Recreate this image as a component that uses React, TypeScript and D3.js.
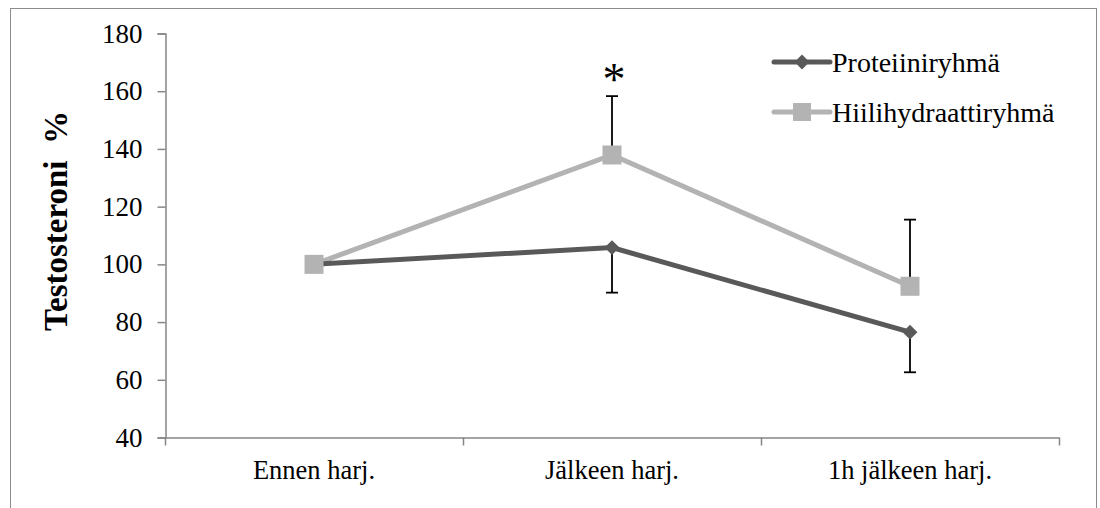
import React, { useEffect, useRef } from "react";
import * as d3 from "d3";

const categories = ["Ennen harj.", "Jälkeen harj.", "1h jälkeen harj."];
const proteinValues = [100, 105.8, 76.5];
const proteinLower = [100, 90.2, 62.6];
const carbValues = [100, 137.9, 92.4];
const carbUpper = [100, 158.3, 115.5];
const yTicks = [40, 60, 80, 100, 120, 140, 160, 180];
const seriesNames = ["Proteiiniryhmä", "Hiilihydraattiryhmä"];
const seriesColors = ["#595959", "#b3b3b3"];

const App = () => {
  const ref = useRef<SVGSVGElement>(null);

  useEffect(() => {
    const svg = d3.select(ref.current);
    svg.selectAll("*").remove();
    const font = "'Liberation Serif', 'Times New Roman', serif";

    svg
      .append("rect")
      .attr("x", 10.5)
      .attr("y", 8.5)
      .attr("width", 1086)
      .attr("height", 520)
      .attr("fill", "none")
      .attr("stroke", "#8c8c8c")
      .attr("stroke-width", 1);

    const x = d3.scaleBand().domain(categories).range([165, 1059]);
    const y = d3.scaleLinear().domain([40, 180]).range([437.5, 33.5]);
    const cx = (c: string) => x(c)! + x.bandwidth() / 2;

    // y axis
    const yAxis = svg
      .append("g")
      .attr("transform", "translate(165.5,0)")
      .call(d3.axisLeft(y).tickValues(yTicks).tickSize(8).tickPadding(15));
    yAxis.select(".domain").attr("stroke", "#868686").attr("stroke-width", 1.5);
    yAxis.selectAll(".tick line").attr("stroke", "#868686").attr("stroke-width", 1.5);
    yAxis
      .selectAll(".tick text")
      .style("font-family", font)
      .style("font-size", "27px")
      .attr("fill", "#000");

    // x axis
    const xAxis = svg
      .append("g")
      .attr("transform", `translate(0,${y(40)})`)
      .call(d3.axisBottom(x).tickSize(0).tickPadding(23));
    xAxis.select(".domain").attr("stroke", "#868686").attr("stroke-width", 1.5);
    xAxis
      .selectAll(".tick text")
      .style("font-family", font)
      .style("font-size", "26.5px")
      .attr("fill", "#000");
    const bounds = categories.map((c) => x(c)!).concat([x.range()[1]]);
    svg
      .append("g")
      .selectAll("line")
      .data(bounds)
      .join("line")
      .attr("x1", (d) => d + 0.5)
      .attr("x2", (d) => d + 0.5)
      .attr("y1", y(40))
      .attr("y2", y(40) + 8)
      .attr("stroke", "#868686")
      .attr("stroke-width", 1.5);

    // y label
    svg
      .append("text")
      .attr("transform", "translate(67,221) rotate(-90)")
      .attr("text-anchor", "middle")
      .style("font-family", font)
      .style("font-weight", "bold")
      .style("font-size", "33px")
      .style("white-space", "pre")
      .text("Testosteroni  %");

    // error bars
    const errData = [
      ...categories.map((c, i) => ({ c, from: proteinValues[i], to: proteinLower[i] })),
      ...categories.map((c, i) => ({ c, from: carbValues[i], to: carbUpper[i] })),
    ].filter((d) => d.from !== d.to);
    const eg = svg.append("g").attr("stroke", "#000").attr("stroke-width", 1.8);
    eg.selectAll("line.v")
      .data(errData)
      .join("line")
      .attr("class", "v")
      .attr("x1", (d) => cx(d.c))
      .attr("x2", (d) => cx(d.c))
      .attr("y1", (d) => y(d.from))
      .attr("y2", (d) => y(d.to));
    eg.selectAll("line.cap")
      .data(errData)
      .join("line")
      .attr("class", "cap")
      .attr("x1", (d) => cx(d.c) - 6)
      .attr("x2", (d) => cx(d.c) + 6)
      .attr("y1", (d) => y(d.to))
      .attr("y2", (d) => y(d.to));

    const line = d3
      .line<number>()
      .x((d, i) => cx(categories[i]))
      .y((d) => y(d));

    // carb series
    svg
      .append("path")
      .datum(carbValues)
      .attr("d", line)
      .attr("fill", "none")
      .attr("stroke", seriesColors[1])
      .attr("stroke-width", 5);
    // protein series
    svg
      .append("path")
      .datum(proteinValues)
      .attr("d", line)
      .attr("fill", "none")
      .attr("stroke", seriesColors[0])
      .attr("stroke-width", 5);

    const diamond = d3.symbol().type(d3.symbolDiamond2).size(140);
    svg
      .append("g")
      .selectAll("path")
      .data(proteinValues)
      .join("path")
      .attr("d", diamond)
      .attr("transform", (d, i) => `translate(${cx(categories[i])},${y(d)})`)
      .attr("fill", seriesColors[0]);
    svg
      .append("g")
      .selectAll("rect")
      .data(carbValues)
      .join("rect")
      .attr("x", (d, i) => cx(categories[i]) - 9.5)
      .attr("y", (d) => y(d) - 9.5)
      .attr("width", 19)
      .attr("height", 19)
      .attr("fill", seriesColors[1]);

    // significance asterisk
    svg
      .append("text")
      .attr("x", cx(categories[1]) + 2)
      .attr("y", 95)
      .attr("text-anchor", "middle")
      .style("font-family", font)
      .style("font-size", "46px")
      .text("*");

    // legend
    const legend = svg
      .append("g")
      .selectAll("g")
      .data(seriesNames)
      .join("g")
      .attr("transform", (d, i) => `translate(774,${62 + i * 50})`);
    legend
      .append("line")
      .attr("x1", 0)
      .attr("x2", 56)
      .attr("stroke", (d, i) => seriesColors[i])
      .attr("stroke-width", 5)
      .attr("stroke-linecap", "round");
    legend
      .append("path")
      .attr("transform", "translate(28,0)")
      .attr("d", (d, i) =>
        i === 0 ? diamond()! : d3.symbol().type(d3.symbolSquare).size(324)()!
      )
      .attr("fill", (d, i) => seriesColors[i]);
    legend
      .append("text")
      .attr("x", 58)
      .attr("y", 10)
      .style("font-family", font)
      .style("font-size", "28px")
      .text((d) => d);
  }, []);

  return (
    <svg
      ref={ref}
      width={1100}
      height={508}
      style={{ position: "absolute", left: 0, top: 0, background: "#fff" }}
    />
  );
};

export default App;
